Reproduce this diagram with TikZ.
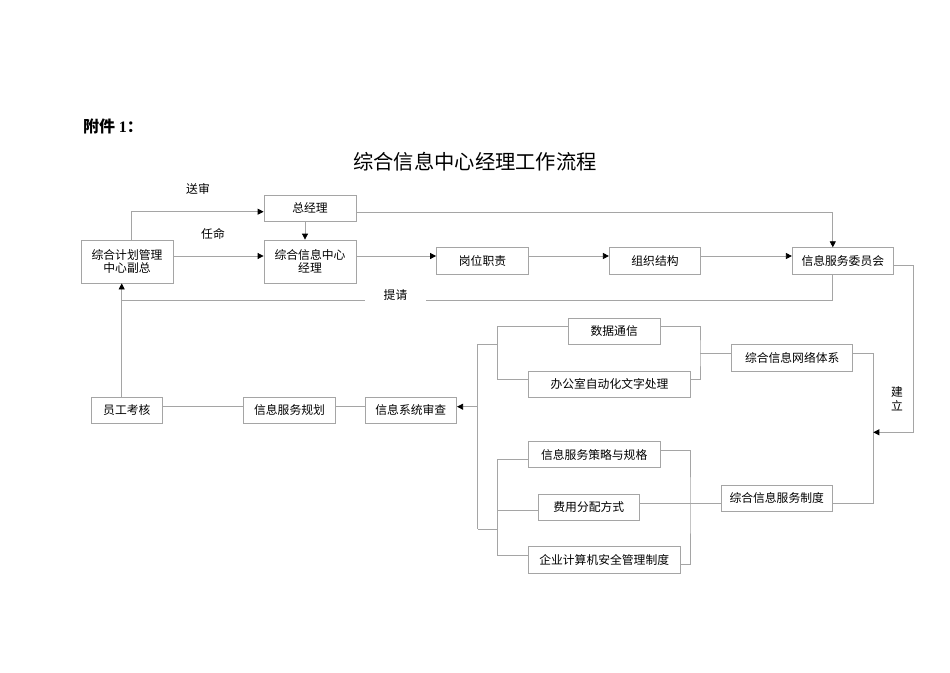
\documentclass[tikz,border=0pt]{standalone}
\usepackage{fontspec}
\setmainfont{Noto Sans CJK SC}
\newfontfamily\latinserif{Liberation Serif}
\usetikzlibrary{arrows.meta}
\definecolor{linegray}{RGB}{165,165,165}

\begin{document}
\begin{tikzpicture}[x=1pt,y=-1pt,
  box/.style={draw=linegray,line width=0.8pt,inner sep=0pt,align=center,font=\fontsize{11.8}{13.3}\selectfont},
  lbl/.style={inner sep=0pt,align=center,font=\fontsize{11.8}{14}\selectfont},
  con/.style={draw=linegray,line width=0.8pt},
  arr/.style={con,-{Triangle[color=black,length=6pt,width=6pt]}}]
\useasboundingbox (0,0) rectangle (950,672);
\node[anchor=west,inner sep=0pt,font=\bfseries\fontsize{16}{16}\selectfont] (att) at (83,126) {附件 {\latinserif 1}：};
\node[font=\fontsize{20.3}{20.3}\selectfont] (title) at (475,162) {综合信息中心经理工作流程};
\node[box,minimum width=92pt,minimum height=26pt] (zjl) at (310,208) {总经理};
\node[box,minimum width=92pt,minimum height=43pt] (fz) at (127,261.5) {综合计划管理\\中心副总};
\node[box,minimum width=92pt,minimum height=43pt] (jl) at (310,261.5) {综合信息中心\\经理};
\node[box,minimum width=92pt,minimum height=26.6pt] (gw) at (482.5,261) {岗位职责};
\node[box,minimum width=91.4pt,minimum height=26.6pt] (zz) at (655,261) {组织结构};
\node[box,minimum width=101pt,minimum height=26.6pt] (wyh) at (842.8,261) {信息服务委员会};
\node[box,minimum width=91.7pt,minimum height=26pt] (sj) at (614.2,331.3) {数据通信};
\node[box,minimum width=162.4pt,minimum height=26.3pt] (bg) at (609.5,384.2) {办公室自动化文字处理};
\node[box,minimum width=121pt,minimum height=26.7pt] (wl) at (792.2,357.7) {综合信息网络体系};
\node[box,minimum width=71.7pt,minimum height=26pt] (yg) at (126.8,410.3) {员工考核};
\node[box,minimum width=92.4pt,minimum height=26pt] (gh) at (289.5,410.3) {信息服务规划};
\node[box,minimum width=91.7pt,minimum height=26pt] (sc) at (410.8,410.3) {信息系统审查};
\node[box,minimum width=131.7pt,minimum height=26pt] (cl) at (594.2,454.7) {信息服务策略与规格};
\node[box,minimum width=101pt,minimum height=26pt] (fy) at (588.8,507) {费用分配方式};
\node[box,minimum width=151.7pt,minimum height=26.6pt] (aq) at (604.2,560) {企业计算机安全管理制度};
\node[box,minimum width=111.3pt,minimum height=26.7pt] (zd) at (776.7,498.3) {综合信息服务制度};
\coordinate (tq) at (121.7,300.7);
\coordinate (sp) at (477.7,406.7);
\coordinate (uL) at (497.3,344.3);
\coordinate (lL) at (497.3,529);
\coordinate (uR) at (700,353.3);
\coordinate (lR) at (690,503.3);
\coordinate (rs) at (873.3,432.3);
\coordinate (rc) at (913.3,432.3);
\draw[arr] ([xshift=4.7pt]fz.north) |- ([yshift=-3.7pt]zjl.west);
\node[lbl] (ss) at (198,189) {送审};
\draw[arr] ([yshift=5.5pt]fz.east) -- ([yshift=5.5pt]jl.west);
\node[lbl] (rm) at (213,234) {任命};
\draw[arr] ([xshift=-5pt]zjl.south) -- ([xshift=-5pt]jl.north);
\draw[arr] ([yshift=5.5pt]jl.east) -- ([yshift=5.5pt]jl.east -| gw.west);
\draw[arr] ([yshift=5pt]gw.east) -- ([yshift=5pt]gw.east -| zz.west);
\draw[arr] ([yshift=5pt]zz.east) -- ([yshift=5pt]zz.east -| wyh.west);
\draw[arr] ([yshift=-4pt]zjl.east) -| ([xshift=-10pt]wyh.north);
\draw[arr] ([xshift=-10pt]wyh.south) |- (tq) -- (tq |- fz.south);
\node[lbl,fill=white,minimum width=61pt,minimum height=14pt] (tqlbl) at (395.5,295) {提请};
\draw[con] (tq) -- (tq |- yg.north);
\draw[con] ([yshift=3.6pt]yg.east) -- ([yshift=3.6pt]gh.west);
\draw[con] ([yshift=3.6pt]gh.east) -- ([yshift=3.6pt]sc.west);
\draw[con] (uL -| sp) -- (lL -| sp);
\draw[arr] (sp) -- (sp -| sc.east);
\draw[con] ([yshift=4.6pt]sj.west) -| (uL) |- ([yshift=4.9pt]bg.west);
\draw[con] (uL) -- (uL -| sp);
\draw[con] ([yshift=4.6pt]sj.east) -| (uR) |- ([yshift=4.9pt]bg.east);
\draw[con] (uR) -- (uR -| wl.west);
\draw[con] ([yshift=4.4pt]wl.east) -| (rs) |- ([yshift=-5pt]zd.east);
\draw[arr] ([yshift=-4.7pt]wyh.east) -| (rc) -- (rs);
\node[lbl] (jianli) at (897,399) {建\\立};
\draw[con] ([yshift=-4.3pt]cl.west) -| (lL) |- ([yshift=5pt]aq.west);
\draw[con] ([yshift=-3.7pt]fy.west) -- ([yshift=-3.7pt]fy.west -| lL);
\draw[con] (lL) -- (lL -| sp);
\draw[con] ([yshift=4.7pt]cl.east) -| (lR) |- ([yshift=-4pt]aq.east);
\draw[con] ([yshift=3.7pt]fy.east) -- ([yshift=3.7pt]fy.east -| zd.west);
\end{tikzpicture}
\end{document}
